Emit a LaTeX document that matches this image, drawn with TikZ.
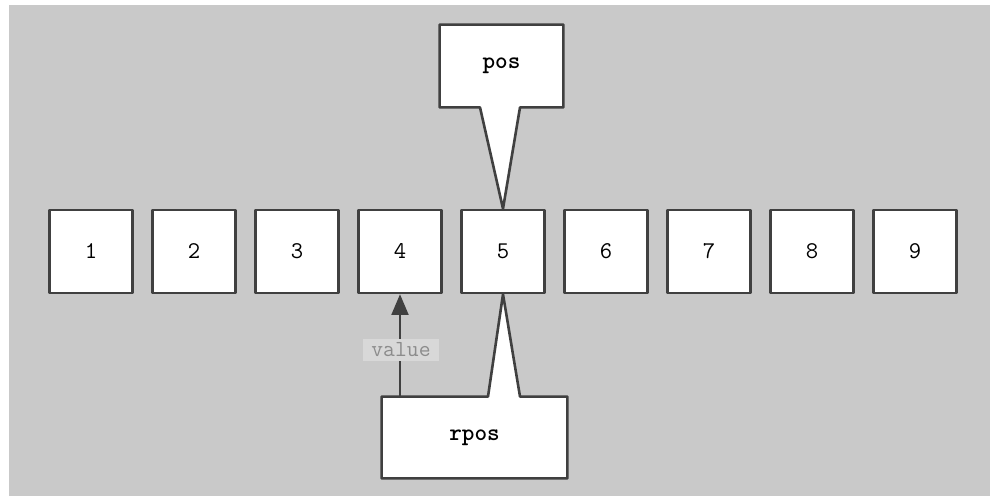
\documentclass[tikz,border=0pt]{standalone}
\usetikzlibrary{arrows}
\definecolor{bggray}{RGB}{201,201,201}
\definecolor{edgegray}{RGB}{64,64,64}
\definecolor{tagback}{RGB}{216,216,216}
\definecolor{taggray}{RGB}{140,140,140}

\begin{document}
\begin{tikzpicture}[line cap=round,line join=round,>=triangle 45,x=0.5pt,y=0.5pt,
    cell/.style={draw=edgegray,fill=white,line width=1.3pt,minimum width=41.5pt,minimum height=41.5pt,inner sep=0pt,font=\ttfamily\fontsize{12}{14}\selectfont},
    callout/.style={inner sep=0pt,font=\ttfamily\bfseries\fontsize{12}{14}\selectfont},
    tag/.style={fill=tagback,text=taggray,inner xsep=4pt,inner ysep=2pt,font=\ttfamily\fontsize{11.5}{14}\selectfont}]
            \useasboundingbox (0,0) rectangle (990,496);
            \fill [bggray] (9,0) rectangle (990,491);
            % row of cells
            \foreach \i in {1,...,9}
                \node [cell] (c\i) at ({91+103*(\i-1)},244.5) {\i};
            % pos callout
            \node [callout,minimum width=61.5pt,minimum height=41pt] (pos) at (501.5,430) {pos};
            \coordinate (posl) at ([xshift=-10.75pt]pos.south);
            \coordinate (posr) at ([xshift=9.25pt]pos.south);
            \draw [draw=edgegray,fill=white,line width=1.3pt] (pos.north west) -- (pos.north east) -- (pos.south east) -- (posr) -- (c5.north) -- (posl) -- (pos.south west) -- cycle;
            \node [callout] at (pos) {pos};
            % rpos callout
            \node [callout,minimum width=92.5pt,minimum height=40.5pt] (rpos) at (474.5,58.5) {rpos};
            \coordinate (rposl) at ([xshift=6.75pt]rpos.north);
            \coordinate (rposr) at ([xshift=22.75pt]rpos.north);
            \draw [draw=edgegray,fill=white,line width=1.3pt] (rpos.south west) -- (rpos.north west) -- (rposl) -- (c5.south) -- (rposr) -- (rpos.north east) -- (rpos.south east) -- cycle;
            \node [callout] at (rpos) {rpos};
            % value arrow
            \coordinate (vfoot) at (rpos.north -| c4.south);
            \draw [->,draw=edgegray,line width=1.4pt] (vfoot) -- (c4.south);
            \node [tag] (val) at (401,146) {value};
        \end{tikzpicture}
\end{document}
